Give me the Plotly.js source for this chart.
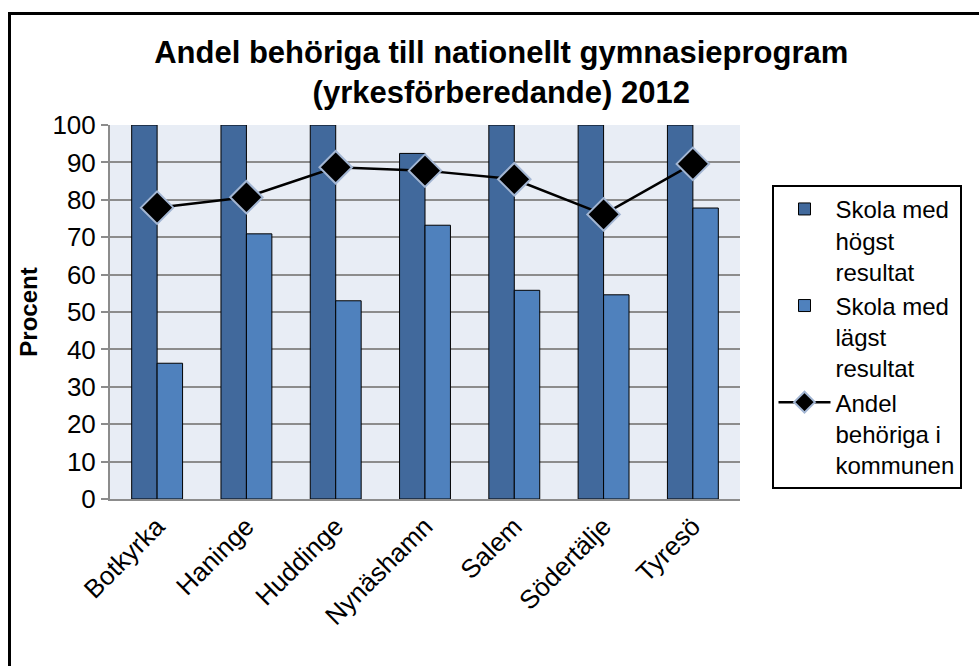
<!DOCTYPE html>
<html>
<head>
<meta charset="utf-8">
<script src="https://cdn.plot.ly/plotly-3.0.1.min.js"></script>
<style>
  html, body { margin: 0; padding: 0; background: #fff; }
  #wrap { position: relative; width: 979px; height: 666px; overflow: hidden; }
  #chart { width: 979px; height: 666px; }
  #frame { position: absolute; left: 8px; top: 12px; width: 990px; height: 700px;
           border: 3px solid #000; box-sizing: border-box; pointer-events: none; }
</style>
</head>
<body>
<div id="wrap">
  <div id="chart"></div>
  <div id="frame"></div>
</div>
<script>
const categories = ["Botkyrka", "Haninge", "Huddinge", "Nynäshamn", "Salem", "Södertälje", "Tyresö"];
const highest = [100, 100, 100, 92.4, 100, 100, 100];
const lowest = [36.3, 70.9, 53.0, 73.2, 55.8, 54.6, 77.8];
const municipality = [77.9, 80.7, 88.7, 87.8, 85.5, 76.1, 89.6];
const yTicks = [0, 10, 20, 30, 40, 50, 60, 70, 80, 90, 100];

const traces = [
  {
    type: "bar", name: "Skola med<br>högst<br>resultat",
    x: categories, y: highest,
    marker: { color: "#41699C", line: { color: "#000", width: 1 } }
  },
  {
    type: "bar", name: "Skola med<br>lägst<br>resultat",
    x: categories, y: lowest,
    marker: { color: "#4F81BD", line: { color: "#000", width: 1 } }
  },
  {
    type: "scatter", mode: "lines+markers", name: "Andel<br>behöriga i<br>kommunen",
    x: categories, y: municipality,
    line: { color: "#000", width: 2.5 },
    marker: { symbol: "diamond", size: 25, color: "#000", line: { color: "#A3B6D3", width: 2 } }
  }
];

const FONT = "Liberation Sans, Arial, sans-serif";
const layout = {
  width: 979, height: 666,
  margin: { l: 110, r: 239, t: 125, b: 167 },
  paper_bgcolor: "#fff",
  plot_bgcolor: "#E8EDF5",
  font: { family: FONT, color: "#000", size: 25 },
  title: {
    text: "<b>Andel behöriga till nationellt gymnasieprogram<br>(yrkesförberedande) 2012</b>",
    font: { size: 31, family: FONT, color: "#000" },
    x: 0.512, xanchor: "center", y: 0.906, yanchor: "middle"
  },
  barmode: "group",
  bargap: 0.43,
  bargroupgap: 0,
  showlegend: true,
  legend: {
    x: 1.05, xanchor: "left", y: 0.84, yanchor: "top",
    bordercolor: "#000", borderwidth: 2, bgcolor: "#fff",
    font: { size: 24, family: FONT, color: "#000" },
    tracegroupgap: 0, valign: "top", itemwidth: 52
  },
  xaxis: {
    type: "category",
    tickangle: -45,
    showline: true, linecolor: "#8C8C8C", linewidth: 2,
    ticks: "", showgrid: false,
    tickfont: { size: 26 }
  },
  yaxis: {
    range: [0, 100],
    tickvals: yTicks,
    ticktext: yTicks.map(String),
    showgrid: true, gridcolor: "#8C8C8C", gridwidth: 2,
    showline: true, linecolor: "#8C8C8C", linewidth: 2,
    ticks: "outside", ticklen: 7, tickcolor: "#8C8C8C", tickwidth: 2,
    tickfont: { size: 26 },
    zeroline: false,
    title: { text: "<b>Procent</b>", font: { size: 24 }, standoff: 8 }
  }
};

Plotly.newPlot("chart", traces, layout, { displayModeBar: false, staticPlot: true });
</script>
</body>
</html>
